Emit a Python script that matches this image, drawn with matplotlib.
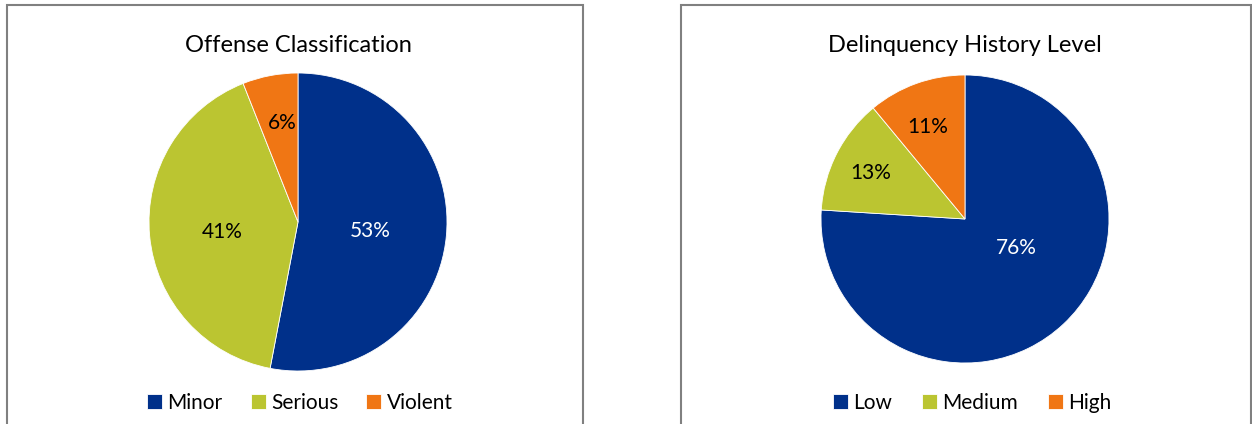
import numpy as np
import matplotlib.pyplot as plt
from matplotlib.patches import Rectangle

plt.rcParams['font.family'] = ['Lato', 'DejaVu Sans']

# Data
offense_labels = ["Minor", "Serious", "Violent"]
offense_values = [53, 41, 6]
history_labels = ["Low", "Medium", "High"]
history_values = [76, 13, 11]

colors = ["#00308A", "#BBC531", "#F07614"]
W, H = 1252, 424


def px_box(cx, cy, r):
    return [(cx - r) / W, (H - cy - r) / H, 2 * r / W, 2 * r / H]


def draw_panel(fig, x0, x1, title, labels, values, center, radius,
               label_dist, label_shift, text_colors, legend_x, legend_gap):
    # grey frame, open at the bottom (cropped)
    fig.add_artist(Rectangle((x0 / W, -0.2), (x1 - x0) / W, 1.2 - 5 / H,
                             transform=fig.transFigure, fill=False,
                             edgecolor="#808080", linewidth=1.5))
    ax = fig.add_axes(px_box(center[0], center[1], radius))
    wedges, _ = ax.pie(values, colors=colors, startangle=90, counterclock=False,
                       wedgeprops=dict(linewidth=0.6, edgecolor="white"))
    ax.set_xlim(-1, 1)
    ax.set_ylim(-1, 1)
    ax.set_aspect("equal")
    for w, v, d, s, c in zip(wedges, values, label_dist, label_shift, text_colors):
        th = np.deg2rad((w.theta1 + w.theta2) / 2 + s)
        ax.text(d * np.cos(th), d * np.sin(th), f"{v}%", ha="center", va="center",
                fontsize=15, color=c)
    fig.text(center[0] / W, 1 - 45 / H, title, ha="center", va="center", fontsize=17)
    fig.legend(wedges, labels, loc="center", bbox_to_anchor=(legend_x / W, 1 - 403 / H),
               ncol=3, frameon=False, fontsize=15, handlelength=0.72, handleheight=0.72,
               handletextpad=0.25, columnspacing=legend_gap, borderaxespad=0)


fig = plt.figure(figsize=(W / 100, H / 100), dpi=100)
draw_panel(fig, 7, 583, "Offense Classification", offense_labels, offense_values,
           (298, 222), 149, [0.49, 0.51, 0.67], [-2, 2, -2],
           ["white", "black", "black"], 300, 1.35)
draw_panel(fig, 681, 1251, "Delinquency History Level", history_labels, history_values,
           (965, 219), 144, [0.41, 0.73, 0.69], [17, 1, 2],
           ["white", "black", "black"], 972, 1.45)
fig.savefig("out.png", dpi=100)
